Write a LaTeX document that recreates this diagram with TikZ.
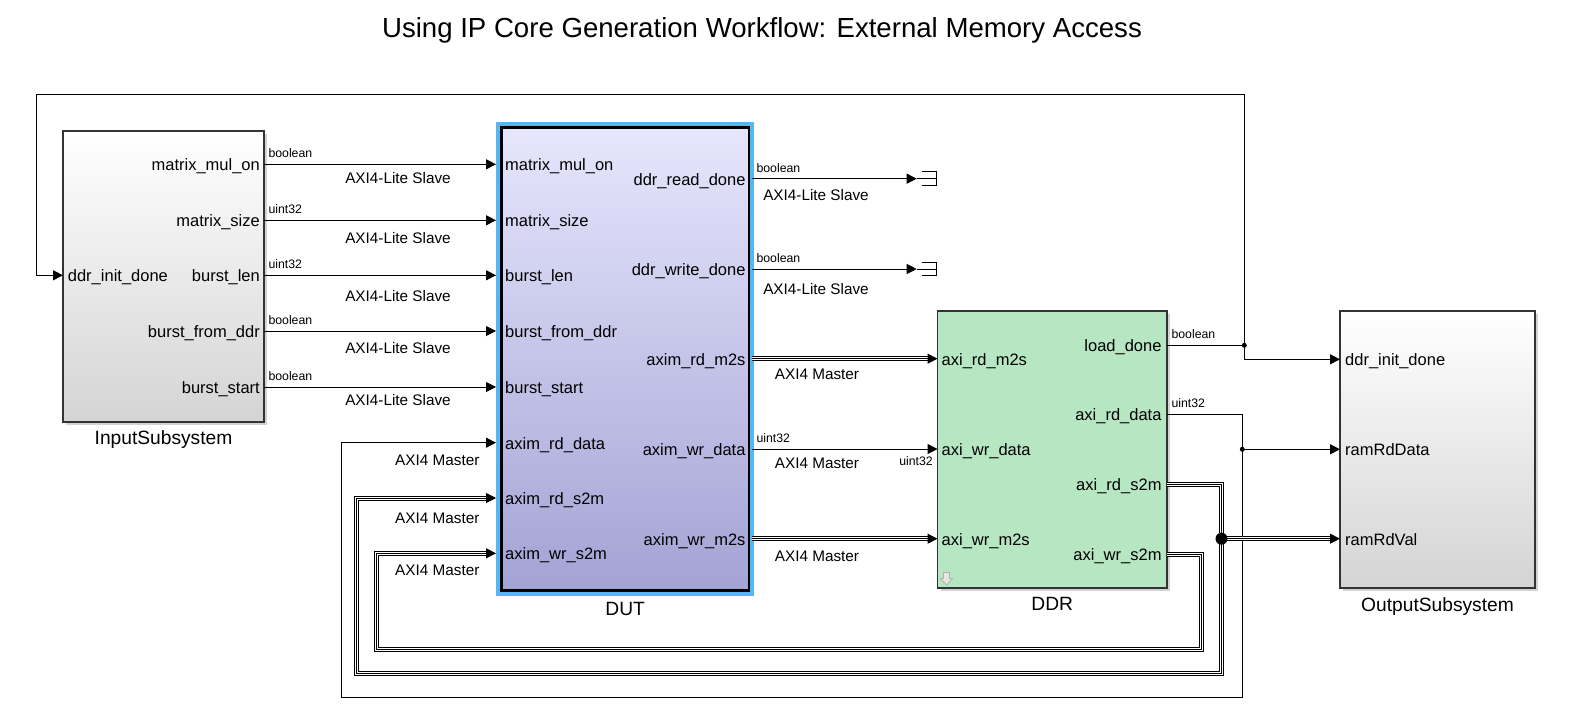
\documentclass[tikz,border=0pt]{standalone}
\usepackage{fontspec}
\setmainfont{Liberation Sans}
\usepackage{tikz}
\usetikzlibrary{positioning,arrows.meta,shadows}
\definecolor{dutTop}{RGB}{230,230,253}
\definecolor{dutBot}{RGB}{163,163,213}
\definecolor{ddrGreen}{RGB}{183,230,195}
\definecolor{selBlue}{RGB}{86,182,242}
\definecolor{subBot}{RGB}{212,212,212}

\begin{document}
\begin{tikzpicture}[x=1pt,y=-1pt]
            \tikzstyle{blk}=[draw=black!80,line width=1.3pt,inner sep=0,outer sep=0,drop shadow={shadow xshift=3pt,shadow yshift=-3pt,opacity=0.35}]
            \tikzstyle{sub}=[blk,top color=white,bottom color=subBot]
            \tikzstyle{dutblk}=[blk,draw=black,line width=2.8pt,preaction={draw=selBlue,line width=10.6pt},top color=dutTop,bottom color=dutBot]
            \tikzstyle{ddrblk}=[blk,fill=ddrGreen]
            \tikzstyle{port}=[inner sep=0,font=\fontsize{16.5}{18}\selectfont]
            \tikzstyle{bname}=[inner sep=0,font=\fontsize{19.2}{21}\selectfont]
            \tikzstyle{ifc}=[inner sep=0,font=\fontsize{15.3}{17}\selectfont]
            \tikzstyle{tiny}=[inner sep=0,font=\fontsize{12.3}{14}\selectfont]
            \tikzstyle{typ}=[tiny,anchor=south west,xshift=4pt,yshift=6pt]
            \tikzstyle{sig}=[line width=1pt]
            \tikzstyle{arr}=[sig,-{Triangle[length=10pt,width=10pt]}]
            \tikzstyle{bus}=[line width=5pt,postaction={draw,white,line width=3pt},postaction={draw,black,line width=1pt}]
            \tikzstyle{jdot}=[circle,fill,inner sep=0,minimum size=5pt]
            \useasboundingbox (0,0) rectangle (1577,714);

            \node[font=\fontsize{27.6}{30}\selectfont,anchor=base] (title) at (762,38) {Using IP Core Generation Workflow: External Memory Access};

            % blocks
            \node[sub,minimum width=201pt,minimum height=291pt] (in) at (163.5,276.5) {};
            \node[dutblk,minimum width=247.7pt,minimum height=463.2pt] (dut) at (625.15,358.9) {};
            \node[ddrblk,minimum width=229.5pt,minimum height=277pt] (ddr) at (1052.25,449.5) {};
            \node[sub,minimum width=195pt,minimum height=277pt] (out) at (1437.5,449.5) {};
            \node[bname,below=8pt of in] (in-name) {InputSubsystem};
            \node[bname,below=12pt of dut] (dut-name) {DUT};
            \node[bname,below=9pt of ddr] (ddr-name) {DDR};
            \node[bname,below=9pt of out] (out-name) {OutputSubsystem};
            \draw[gray!60,fill=gray!20,line width=0.8pt] (943.5,572.5) -- (949.5,572.5) -- (949.5,578.5) -- (952.5,578.5) -- (946.5,585) -- (940.5,578.5) -- (943.5,578.5) -- cycle;

            % ports
            \coordinate (in-i1) at (63,275.3);
            \coordinate (in-o1) at (264,164.3);
            \coordinate (in-o2) at (264,220.3);
            \coordinate (in-o3) at (264,275.3);
            \coordinate (in-o4) at (264,331);
            \coordinate (in-o5) at (264,387);
            \coordinate (dut-i1) at (496,164.3);
            \coordinate (dut-i2) at (496,220.3);
            \coordinate (dut-i3) at (496,275.3);
            \coordinate (dut-i4) at (496,331);
            \coordinate (dut-i5) at (496,387);
            \coordinate (dut-i6) at (496,442.7);
            \coordinate (dut-i7) at (496,498);
            \coordinate (dut-i8) at (496,553.3);
            \coordinate (dut-o1) at (752,178.7);
            \coordinate (dut-o2) at (752,269);
            \coordinate (dut-o3) at (752,358.7);
            \coordinate (dut-o4) at (752,449);
            \coordinate (dut-o5) at (752,538.7);
            \coordinate (ddr-i1) at (937.5,358.7);
            \coordinate (ddr-i2) at (937.5,449);
            \coordinate (ddr-i3) at (937.5,538.7);
            \coordinate (ddr-o1) at (1167,345.3);
            \coordinate (ddr-o2) at (1167,414.3);
            \coordinate (ddr-o3) at (1167,484.3);
            \coordinate (ddr-o4) at (1167,554);
            \coordinate (out-i1) at (1340,359.3);
            \coordinate (out-i2) at (1340,449.3);
            \coordinate (out-i3) at (1340,538.7);
            \coordinate (term1) at (916.7,178.7);
            \coordinate (term2) at (916.7,269);
            \coordinate (j1) at (1244.3,345.3);
            \coordinate (j2) at (1242.3,449.3);
            \coordinate (j3) at (1221.5,538.7);
            \coordinate (c0) at (36.3,94.3);
            \coordinate (c2) at (341.7,697.5);
            \coordinate (c3) at (356.7,673.5);
            \coordinate (c4) at (1201,649.3);
            \coordinate (c5) at (376.7,649.3);

            \node[port,anchor=base west] (in-l0) at ([xshift=4.7pt,yshift=-6.5pt]in-i1) {ddr\_init\_done};
            \node[port,anchor=base east] (in-l1) at ([xshift=-4pt,yshift=-6.5pt]in-o1) {matrix\_mul\_on};
            \node[port,anchor=base east] (in-l2) at ([xshift=-4pt,yshift=-6.5pt]in-o2) {matrix\_size};
            \node[port,anchor=base east] (in-l3) at ([xshift=-4pt,yshift=-6.5pt]in-o3) {burst\_len};
            \node[port,anchor=base east] (in-l4) at ([xshift=-4pt,yshift=-6.5pt]in-o4) {burst\_from\_ddr};
            \node[port,anchor=base east] (in-l5) at ([xshift=-4pt,yshift=-6.5pt]in-o5) {burst\_start};
            \node[port,anchor=base west] (dut-l1) at ([xshift=9pt,yshift=-6.5pt]dut-i1) {matrix\_mul\_on};
            \node[port,anchor=base west] (dut-l2) at ([xshift=9pt,yshift=-6.5pt]dut-i2) {matrix\_size};
            \node[port,anchor=base west] (dut-l3) at ([xshift=9pt,yshift=-6.5pt]dut-i3) {burst\_len};
            \node[port,anchor=base west] (dut-l4) at ([xshift=9pt,yshift=-6.5pt]dut-i4) {burst\_from\_ddr};
            \node[port,anchor=base west] (dut-l5) at ([xshift=9pt,yshift=-6.5pt]dut-i5) {burst\_start};
            \node[port,anchor=base west] (dut-l6) at ([xshift=9pt,yshift=-6.5pt]dut-i6) {axim\_rd\_data};
            \node[port,anchor=base west] (dut-l7) at ([xshift=9pt,yshift=-6.5pt]dut-i7) {axim\_rd\_s2m};
            \node[port,anchor=base west] (dut-l8) at ([xshift=9pt,yshift=-6.5pt]dut-i8) {axim\_wr\_s2m};
            \node[port,anchor=base east] (dut-r1) at ([xshift=-6.3pt,yshift=-6.5pt]dut-o1) {ddr\_read\_done};
            \node[port,anchor=base east] (dut-r2) at ([xshift=-6.3pt,yshift=-6.5pt]dut-o2) {ddr\_write\_done};
            \node[port,anchor=base east] (dut-r3) at ([xshift=-6.3pt,yshift=-6.5pt]dut-o3) {axim\_rd\_m2s};
            \node[port,anchor=base east] (dut-r4) at ([xshift=-6.3pt,yshift=-6.5pt]dut-o4) {axim\_wr\_data};
            \node[port,anchor=base east] (dut-r5) at ([xshift=-6.3pt,yshift=-6.5pt]dut-o5) {axim\_wr\_m2s};
            \node[port,anchor=base west] (ddr-l1) at ([xshift=4pt,yshift=-6.5pt]ddr-i1) {axi\_rd\_m2s};
            \node[port,anchor=base west] (ddr-l2) at ([xshift=4pt,yshift=-6.5pt]ddr-i2) {axi\_wr\_data};
            \node[port,anchor=base west] (ddr-l3) at ([xshift=4pt,yshift=-6.5pt]ddr-i3) {axi\_wr\_m2s};
            \node[port,anchor=base east] (ddr-r1) at ([xshift=-5.3pt,yshift=-6.5pt]ddr-o1) {load\_done};
            \node[port,anchor=base east] (ddr-r2) at ([xshift=-5.3pt,yshift=-6.5pt]ddr-o2) {axi\_rd\_data};
            \node[port,anchor=base east] (ddr-r3) at ([xshift=-5.3pt,yshift=-6.5pt]ddr-o3) {axi\_rd\_s2m};
            \node[port,anchor=base east] (ddr-r4) at ([xshift=-5.3pt,yshift=-6.5pt]ddr-o4) {axi\_wr\_s2m};
            \node[port,anchor=base west] (out-l1) at ([xshift=5pt,yshift=-6.5pt]out-i1) {ddr\_init\_done};
            \node[port,anchor=base west] (out-l2) at ([xshift=5pt,yshift=-6.5pt]out-i2) {ramRdData};
            \node[port,anchor=base west] (out-l3) at ([xshift=5pt,yshift=-6.5pt]out-i3) {ramRdVal};

            % signals
            \draw[arr] (in-o1) -- node[typ,pos=0] (ty1) {boolean} (dut-i1);
            \draw[arr] (in-o2) -- node[typ,pos=0] (ty2) {uint32} (dut-i2);
            \draw[arr] (in-o3) -- node[typ,pos=0] (ty3) {uint32} (dut-i3);
            \draw[arr] (in-o4) -- node[typ,pos=0] (ty4) {boolean} (dut-i4);
            \draw[arr] (in-o5) -- node[typ,pos=0] (ty5) {boolean} (dut-i5);
            \draw[arr] (dut-o1) -- node[typ,pos=0] (ty6) {boolean} (term1);
            \draw[arr] (dut-o2) -- node[typ,pos=0] (ty7) {boolean} (term2);
            \draw[sig] (term1) -- ++(19.3,0) (term1) ++(5,-6.8) -- ++(14.3,0) -- ++(0,13.6) -- ++(-14.3,0);
            \draw[sig] (term2) -- ++(19.3,0) (term2) ++(5,-6.8) -- ++(14.3,0) -- ++(0,13.6) -- ++(-14.3,0);
            \draw[arr] (dut-o4) -- node[typ,pos=0] (ty8) {uint32} (ddr-i2);
            \draw[sig] (ddr-o1) -- node[typ,pos=0] (ty9) {boolean} (j1);
            \draw[arr] (j1) |- (c0) |- (in-i1);
            \draw[arr] (j1) |- (out-i1);
            \draw[arr] (ddr-o2) -| node[typ,pos=0] (ty10) {uint32} (j2) |- (c2) |- (dut-i6);
            \draw[arr] (j2) -- (out-i2);
            \node[tiny,anchor=north east] (ty11) at (933,456.5) {uint32};

            % buses
            \draw[bus] (dut-o3) -- ([xshift=-10pt]ddr-i1);
            \draw[arr] ([xshift=-10pt]ddr-i1) -- (ddr-i1);
            \draw[bus] (dut-o5) -- ([xshift=-10pt]ddr-i3);
            \draw[arr] ([xshift=-10pt]ddr-i3) -- (ddr-i3);
            \draw[bus] (ddr-o4) -| (c4) -- (c5) |- ([xshift=-10pt]dut-i8);
            \draw[arr] ([xshift=-10pt]dut-i8) -- (dut-i8);
            \draw[bus] (ddr-o3) -| (j3) |- (c3) |- ([xshift=-10pt]dut-i7);
            \draw[arr] ([xshift=-10pt]dut-i7) -- (dut-i7);
            \draw[bus] (j3) -- ([xshift=-10pt]out-i3);
            \draw[arr] ([xshift=-10pt]out-i3) -- (out-i3);
            \node[jdot] (d1) at (j1) {};
            \node[jdot] (d2) at (j2) {};
            \node[jdot,minimum size=12pt] (d3) at (j3) {};

            % interface labels
            \node[ifc] (if1) at (398,177.7) {AXI4-Lite Slave};
            \node[ifc] (if2) at (398,237.7) {AXI4-Lite Slave};
            \node[ifc] (if3) at (398,296) {AXI4-Lite Slave};
            \node[ifc] (if4) at (398,347.7) {AXI4-Lite Slave};
            \node[ifc] (if5) at (398,400) {AXI4-Lite Slave};
            \node[ifc] (if6) at (816,194.7) {AXI4-Lite Slave};
            \node[ifc] (if7) at (816,288.8) {AXI4-Lite Slave};
            \node[ifc] (if8) at (817,374) {AXI4 Master};
            \node[ifc] (if9) at (817,463.3) {AXI4 Master};
            \node[ifc] (if10) at (817,556.5) {AXI4 Master};
            \node[ifc] (if11) at (437.3,460.7) {AXI4 Master};
            \node[ifc] (if12) at (437.3,518.3) {AXI4 Master};
            \node[ifc] (if13) at (437.3,570) {AXI4 Master};
\end{tikzpicture}
\end{document}
